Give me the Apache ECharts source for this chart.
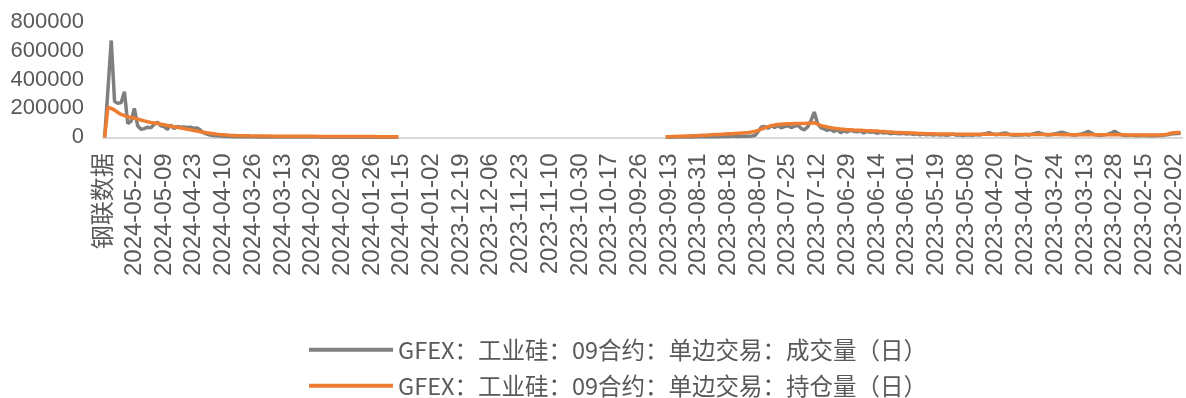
<!DOCTYPE html>
<html>
<head>
<meta charset="utf-8">
<title>GFEX 工业硅 09合约</title>
<script src="https://cdn.jsdelivr.net/npm/echarts@6/dist/echarts.min.js"></script>
<style>
  html, body { margin: 0; padding: 0; background: #ffffff; }
  #chart { width: 1186px; height: 398px; }
</style>
</head>
<body>
<div id="chart"></div>
<script>
// Header cell of the export, shown as the first category
const headerLabel = '钢联数据';

// Exchange trading calendar: newest and oldest trading day in the table,
// plus weekday market holidays in between
const firstTradingDay = '2024-06-03';
const lastTradingDay = '2023-01-31';
const marketHolidays = [
  '2023-04-05', '2023-05-01', '2023-05-02', '2023-05-03', '2023-06-22', '2023-06-23',
  '2023-09-29', '2023-10-02', '2023-10-03', '2023-10-04', '2023-10-05', '2023-10-06',
  '2024-01-01', '2024-02-09', '2024-02-12', '2024-02-13', '2024-02-14', '2024-02-15',
  '2024-02-16', '2024-04-04', '2024-04-05', '2024-05-01', '2024-05-02', '2024-05-03'
];

// Y axis ticks
const yTicks = [0, 200000, 400000, 600000, 800000];

// Series names
const volumeName = 'GFEX：工业硅：09合约：单边交易：成交量（日）';
const openInterestName = 'GFEX：工业硅：09合约：单边交易：持仓量（日）';

// SI2409: header row + 2024-06-03 … 2024-01-16 (newest first)
const volume2409 = [
  0, 330000, 670000, 250000, 235000, 240000, 315000, 95000, 110000, 200000,
  80000, 55000, 60000, 70000, 65000, 90000, 105000, 80000, 75000, 55000,
  85000, 60000, 75000, 70000, 72000, 68000, 70000, 62000, 65000, 50000,
  30000, 22000, 15000, 12000, 10000, 9000, 7000, 6000, 5000, 4500,
  4000, 3800, 3500, 3300, 3600, 3100, 2900, 3000, 2700, 2500,
  2600, 2300, 2200, 2400, 2000, 1900, 2100, 1800, 1700, 1900,
  1600, 1500, 1700, 1400, 1300, 1500, 1200, 1100, 1300, 1000,
  1100, 900, 1000, 800, 900, 700, 800, 600, 700, 500,
  600, 500, 400, 600, 400, 300, 500, 300, 200, 300
];
const openInterest2409 = [
  0, 208000, 200000, 188000, 172000, 158000, 150000, 142000, 138000, 132000,
  126000, 120000, 114000, 108000, 103000, 99000, 95000, 91000, 87000, 82000,
  77000, 73000, 69000, 65000, 61000, 56000, 52000, 47000, 43000, 39000,
  35000, 31000, 28000, 25000, 22000, 19500, 17500, 15500, 14000, 13000,
  12000, 11500, 11000, 10500, 10000, 9700, 9400, 9100, 8800, 8500,
  8300, 8100, 7900, 7800, 7600, 7500, 7300, 7200, 7100, 7000,
  6900, 6800, 6700, 6600, 6500, 6400, 6300, 6200, 6100, 6000,
  5900, 5800, 5700, 5600, 5500, 5400, 5300, 5200, 5100, 5000,
  4900, 4800, 4700, 4600, 4500, 4400, 4300, 4200, 4100, 4000
];

// Trading days with no 09 contract quotes: 2024-01-15 … 2023-09-15
const noQuoteDays = 80;

// SI2309: 2023-09-14 … 2023-01-31 (newest first)
const volume2309 = [
  1000, 1500, 1200, 2000, 1800, 2500, 2200, 3000, 2800, 3500,
  3000, 4000, 3600, 4500, 4000, 5000, 4600, 5500, 5200, 6000,
  6500, 7000, 6000, 7500, 8000, 7000, 9000, 12000, 40000, 72000,
  75000, 62000, 80000, 68000, 82000, 66000, 74000, 80000, 68000, 76000,
  84000, 62000, 52000, 72000, 115000, 175000, 95000, 66000, 58000, 48000,
  56000, 40000, 52000, 32000, 46000, 36000, 50000, 40000, 38000, 45000,
  30000, 42000, 35000, 38000, 28000, 36000, 30000, 33000, 25000, 30000,
  26000, 24000, 28000, 22000, 26000, 20000, 24000, 18000, 22000, 17000,
  21000, 16000, 20000, 15000, 19000, 14000, 18000, 22000, 15000, 17000,
  13000, 18000, 16000, 14000, 19000, 15000, 21000, 26000, 32000, 24000,
  18000, 22000, 27000, 30000, 20000, 16000, 14000, 18000, 15000, 20000,
  16000, 22000, 28000, 33000, 25000, 18000, 16000, 20000, 24000, 30000,
  36000, 29000, 22000, 17000, 15000, 19000, 23000, 30000, 42000, 30000,
  18000, 15000, 14000, 17000, 22000, 30000, 42000, 28000, 18000, 14000,
  12000, 15000, 13000, 11000, 14000, 12000, 10000, 12000, 11000, 12000,
  13000, 15000, 18000, 22000, 25000, 26000, 28000
];
const openInterest2309 = [
  3000, 4000, 5000, 5500, 6500, 7500, 8500, 9500, 10500, 11500,
  13000, 14000, 15000, 16500, 18000, 19000, 20000, 21500, 23000, 24000,
  25000, 26500, 28000, 29500, 31000, 33000, 36000, 40000, 48000, 57000,
  66000, 74000, 80000, 85000, 88000, 90000, 92000, 93000, 94000, 95000,
  95000, 96000, 96000, 97000, 98000, 101000, 92000, 83000, 76000, 71000,
  67000, 63000, 60000, 57000, 55000, 53000, 52000, 50000, 49000, 48000,
  47000, 46000, 45000, 44000, 43000, 41000, 40000, 38000, 37000, 35000,
  34000, 33000, 32000, 31000, 30000, 29000, 28000, 27000, 26000, 25000,
  24500, 24000, 23500, 23000, 22800, 22500, 22300, 22000, 21800, 21600,
  21500, 21300, 21200, 21000, 21000, 20800, 20700, 20600, 20500, 20400,
  20300, 20200, 20100, 20000, 20000, 19900, 19800, 19700, 19600, 19500,
  19400, 19300, 19200, 19100, 19000, 19000, 18900, 18800, 18700, 18600,
  18500, 18400, 18300, 18200, 18100, 18000, 18000, 17900, 17800, 17700,
  17600, 17500, 17400, 17300, 17200, 17100, 17000, 17000, 16900, 16800,
  16700, 16600, 16500, 16400, 16300, 16200, 16100, 16000, 16200, 16500,
  17000, 18000, 22000, 28000, 32000, 33000, 34000
];

// Build the descending list of trading days from the calendar
function tradingDays(fromIso, toIso, holidays) {
  const closed = new Set(holidays);
  const out = [];
  const day = 86400000;
  const end = Date.parse(toIso + 'T00:00:00Z');
  for (let t = Date.parse(fromIso + 'T00:00:00Z'); t >= end; t -= day) {
    const d = new Date(t);
    const wd = d.getUTCDay();
    const iso = d.toISOString().slice(0, 10);
    if (wd !== 0 && wd !== 6 && !closed.has(iso)) out.push(iso);
  }
  return out;
}

const categories = [headerLabel].concat(tradingDays(firstTradingDay, lastTradingDay, marketHolidays));
const gap = new Array(noQuoteDays).fill(null);
const volumeData = volume2409.concat(gap, volume2309);
const openInterestData = openInterest2409.concat(gap, openInterest2309);

const axisFont = '"Liberation Sans", Arial, "Noto Sans CJK SC", sans-serif';
const textColor = '#595959';

// One legend block per series, stacked in two rows
function legendRow(name, top) {
  return {
    orient: 'vertical',
    left: 304,
    top: top,
    itemWidth: 84,
    itemHeight: 4,
    icon: 'rect',
    textStyle: {
      color: textColor,
      fontSize: 23.5,
      fontFamily: '"Noto Sans CJK SC", sans-serif'
    },
    data: [name]
  };
}

const chart = echarts.init(document.getElementById('chart'), null, { renderer: 'canvas' });
chart.setOption({
  animation: false,
  backgroundColor: '#ffffff',
  grid: { left: 103, right: 0, top: 21.7, height: 115.6, containLabel: false },
  xAxis: {
    type: 'category',
    data: categories,
    boundaryGap: true,
    axisLine: { show: true, lineStyle: { color: '#d9d9d9', width: 2 } },
    axisTick: { show: false },
    axisLabel: {
      interval: 8,
      rotate: 90,
      margin: 16,
      color: textColor,
      fontSize: 24,
      fontFamily: axisFont
    },
    splitLine: { show: false }
  },
  yAxis: {
    type: 'value',
    min: yTicks[0],
    max: yTicks[yTicks.length - 1],
    interval: yTicks[1] - yTicks[0],
    axisLine: { show: false },
    axisTick: { show: false },
    splitLine: { show: false },
    axisLabel: {
      margin: 19,
      color: textColor,
      fontSize: 22,
      fontFamily: axisFont,
      formatter: function (v) { return String(v); }
    }
  },
  legend: [
    legendRow(volumeName, 333),
    legendRow(openInterestName, 369)
  ],
  series: [
    {
      name: volumeName,
      type: 'line',
      data: volumeData,
      symbol: 'none',
      connectNulls: false,
      color: '#7f7f7f',
      lineStyle: { color: '#7f7f7f', width: 3.5 }
    },
    {
      name: openInterestName,
      type: 'line',
      data: openInterestData,
      symbol: 'none',
      connectNulls: false,
      color: '#ed7d31',
      lineStyle: { color: '#ed7d31', width: 3.5 }
    }
  ]
});
</script>
</body>
</html>
